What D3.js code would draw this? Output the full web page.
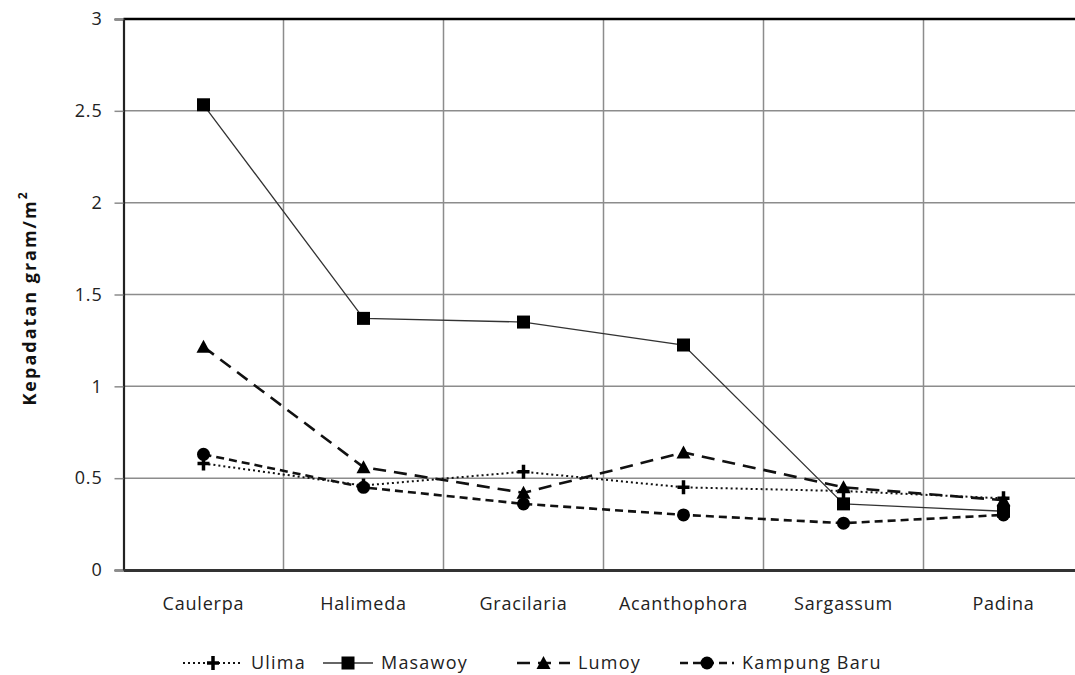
<!DOCTYPE html>
<html><head><meta charset="utf-8">
<script src="https://cdn.jsdelivr.net/npm/d3@7"></script>
<style>body{margin:0;background:#fff;} svg{display:block;}</style>
</head><body>
<svg id="c" width="1075" height="675"></svg>
<script>
const categories = ["Caulerpa","Halimeda","Gracilaria","Acanthophora","Sargassum","Padina"];
const yTicks = [0,0.5,1,1.5,2,2.5,3];
const ulima = [0.58,0.46,0.535,0.45,0.43,0.39];
const masawoy = [2.533,1.37,1.35,1.225,0.36,0.32];
const lumoy = [1.215,0.56,0.42,0.64,0.45,0.38];
const kampungBaru = [0.63,0.45,0.36,0.30,0.255,0.30];
const seriesNames = ["Ulima","Masawoy","Lumoy","Kampung Baru"];

(function(){
const series = [
  {name:seriesNames[0], values:ulima, dash:"2,3", width:2, color:"#111", marker:"plus"},
  {name:seriesNames[1], values:masawoy, dash:null, width:1.3, color:"#333", marker:"square"},
  {name:seriesNames[2], values:lumoy, dash:"13,8", width:2.6, color:"#111", marker:"triangle"},
  {name:seriesNames[3], values:kampungBaru, dash:"8,5", width:2.6, color:"#111", marker:"circle"}
];

const svg = d3.select("#c");
const mLeft = 123.5, mRight = 1083.5, mTop = 19, mBottom = 570;
const x = d3.scaleBand().domain(categories).range([mLeft,mRight]);
const y = d3.scaleLinear().domain([0,3]).range([mBottom,mTop]);
const font = "'Open Sans', 'Noto Sans', sans-serif";

const g = svg.append("g");
g.selectAll(".hg").data(yTicks.filter(d=>d>0 && d<3)).join("line")
  .attr("x1",mLeft).attr("x2",mRight).attr("y1",d=>y(d)).attr("y2",d=>y(d))
  .attr("stroke","#8c8c8c").attr("stroke-width",1.5);
g.selectAll(".vg").data(categories.slice(1)).join("line")
  .attr("x1",d=>x(d)).attr("x2",d=>x(d)).attr("y1",mTop).attr("y2",mBottom)
  .attr("stroke","#8c8c8c").attr("stroke-width",1.5);
svg.append("line").attr("x1",mLeft).attr("x2",mRight).attr("y1",mTop).attr("y2",mTop)
  .attr("stroke","#000").attr("stroke-width",2.5);

const yAxis = d3.axisLeft(y).tickValues(yTicks).tickSize(9).tickPadding(12).tickFormat(d=>String(d));
const ya = svg.append("g").attr("transform",`translate(${mLeft},0)`).call(yAxis);
ya.select(".domain").attr("stroke","#222").attr("stroke-width",2.2);
ya.selectAll(".tick line").attr("stroke","#8c8c8c").attr("stroke-width",1.5);
ya.selectAll("text").attr("font-family",font).attr("font-size",18).attr("letter-spacing",0.8).attr("fill","#222");

const xAxis = d3.axisBottom(x).tickSize(0).tickPadding(27);
const xa = svg.append("g").attr("transform",`translate(0,${mBottom})`).call(xAxis);
xa.select(".domain").attr("stroke","#333").attr("stroke-width",3);
xa.selectAll("text").attr("font-family",font).attr("font-size",18).attr("letter-spacing",0.8).attr("fill","#222");

svg.append("text").attr("transform","translate(36,298) rotate(-90)")
  .attr("text-anchor","middle").attr("font-family",font).attr("font-size",18).attr("font-weight","bold")
  .attr("letter-spacing",2).attr("fill","#111")
  .text("Kepadatan gram/m").append("tspan").attr("dy",-9).attr("font-size",12).text("2");

const line = d3.line().x((d,i)=>x(categories[i])+x.bandwidth()/2).y(d=>y(d));

function drawMarker(sel, type, cx, cy){
  if(type==="square") sel.append("rect").attr("x",cx-6.5).attr("y",cy-6.5).attr("width",13).attr("height",13).attr("fill","#000");
  else if(type==="circle") sel.append("circle").attr("cx",cx).attr("cy",cy).attr("r",6.5).attr("fill","#000");
  else if(type==="triangle") sel.append("path").attr("d",`M${cx},${cy-7}L${cx+7},${cy+6}L${cx-7},${cy+6}Z`).attr("fill","#000");
  else if(type==="plus") sel.append("path").attr("d",`M${cx-6},${cy}H${cx+6}M${cx},${cy-7}V${cy+7}`).attr("stroke","#000").attr("stroke-width",3.5).attr("fill","none");
}

series.forEach(s=>{
  const gs = svg.append("g");
  gs.append("path").datum(s.values).attr("d",line).attr("fill","none")
    .attr("stroke",s.color).attr("stroke-width",s.width).attr("stroke-dasharray",s.dash);
  s.values.forEach((v,i)=>drawMarker(gs,s.marker,x(categories[i])+x.bandwidth()/2,y(v)));
});

const legendPos = [[183,251],[323,381],[517,578],[680,742]];
series.forEach((s,i)=>{
  const [lx,tx] = legendPos[i];
  const ly = 663;
  const lg = svg.append("g");
  lg.append("line").attr("x1",lx).attr("x2",tx-8).attr("y1",ly).attr("y2",ly)
    .attr("stroke",s.color).attr("stroke-width",s.width).attr("stroke-dasharray",s.dash);
  drawMarker(lg,s.marker,(lx+tx-8)/2,ly);
  lg.append("text").attr("x",tx).attr("y",ly).attr("dy","0.36em").attr("font-family",font)
    .attr("font-size",18).attr("letter-spacing",1.2).attr("fill","#222").text(s.name);
});
})();
</script>
</body></html>
